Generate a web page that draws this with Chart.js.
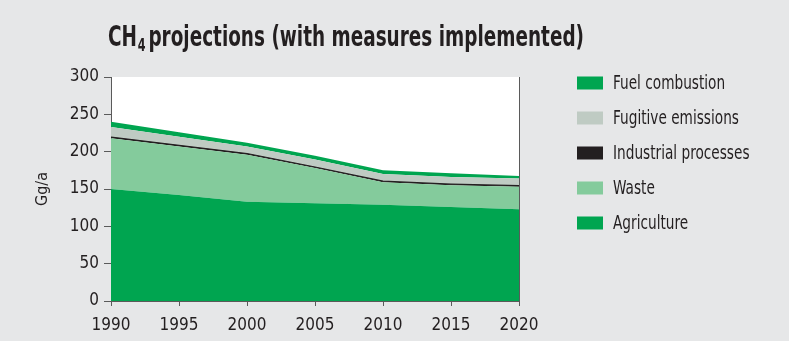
<!DOCTYPE html>
<html>
<head>
<meta charset="utf-8">
<script src="https://cdn.jsdelivr.net/npm/chart.js@4/dist/chart.umd.min.js"></script>
<style>
  html, body { margin: 0; padding: 0; background: #e6e7e8; }
  #wrap { width: 789px; height: 341px; }
</style>
</head>
<body>
<div id="wrap"><canvas id="ch4Chart" width="789" height="341"></canvas></div>
<script>
// years on the x axis
const years = ['1990', '1995', '2000', '2005', '2010', '2015', '2020'];

// Gg/a per source (stacked from the bottom up)
const agriculture = [150, 142, 133, 131, 129, 126, 123];
const waste = [68, 65, 63, 47, 30, 29, 30];
const industrial = [1.5, 1.5, 1.5, 1.5, 1.5, 1.5, 1.5];
const fugitive = [13.5, 11.5, 9.5, 10, 9.5, 9.5, 9.5];
const fuel = [7, 6, 5, 5, 5, 5, 3.5];

const yTicks = [0, 50, 100, 150, 200, 250, 300];

const FONT = '"DejaVu Sans Condensed", "Liberation Sans Narrow", sans-serif';
const TEXT = '#231f20';
const AXIS = '#5a5a5a';

function layer(label, data, color, fill, extra) {
  return Object.assign({
    label: label,
    data: data,
    backgroundColor: color,
    borderColor: color,
    borderWidth: 0,
    pointRadius: 0,
    tension: 0,
    fill: fill
  }, extra || {});
}

// фон области графика + правая рамка
const plotFrame = {
  id: 'plotFrame',
  beforeDraw(chart) {
    const a = chart.chartArea, c = chart.ctx;
    c.save();
    c.fillStyle = '#ffffff';
    c.fillRect(a.left, a.top, a.right - a.left, a.bottom - a.top);
    c.restore();
  },
  afterDatasetsDraw(chart) {
    const a = chart.chartArea, c = chart.ctx;
    c.save();
    c.strokeStyle = AXIS;
    c.lineWidth = 1;
    c.beginPath();
    c.moveTo(a.right + 0.5, a.top);
    c.lineTo(a.right + 0.5, a.bottom);
    c.stroke();
    c.restore();
  }
};

// заголовок с подстрочной 4, сжат по ширине как узкий шрифт
const titlePlugin = {
  id: 'titlePlugin',
  afterDraw(chart) {
    const c = chart.ctx;
    const big = 'bold 28px ' + FONT, small = 'bold 17px ' + FONT;
    const rest = 'projections (with measures implemented)';
    c.save();
    c.font = big;
    const wCH = c.measureText('CH').width;
    const wRest = c.measureText(rest).width;
    c.font = small;
    const w4 = c.measureText('4').width;
    const total = wCH + 1 + w4 + 4 + wRest;
    const k = 476 / total;
    c.translate(108, 46);
    c.scale(k, 1);
    c.fillStyle = TEXT;
    c.textBaseline = 'alphabetic';
    let x = 0;
    c.font = big;
    c.fillText('CH', x, 0);
    x += wCH + 1;
    c.font = small;
    c.fillText('4', x, 5);
    x += w4 + 4;
    c.font = big;
    c.fillText(rest, x, 0);
    c.restore();
  }
};

// легенда справа, в обратном порядке
const sideLegend = {
  id: 'sideLegend',
  afterDraw(chart) {
    const c = chart.ctx;
    const sets = chart.data.datasets.slice().reverse();
    c.save();
    c.font = '19px ' + FONT;
    c.textBaseline = 'middle';
    sets.forEach((ds, i) => {
      const cy = 83 + i * 35;
      c.fillStyle = ds.backgroundColor;
      c.fillRect(577, cy - 6.5, 26, 13);
      c.fillStyle = TEXT;
      c.save();
      c.translate(613, cy + 1);
      c.scale(0.8, 1);
      c.fillText(ds.label, 0, 0);
      c.restore();
    });
    c.restore();
  }
};

new Chart(document.getElementById('ch4Chart').getContext('2d'), {
  type: 'line',
  data: {
    labels: years,
    datasets: [
      layer('Agriculture', agriculture, '#00a550', 'origin'),
      layer('Waste', waste, '#84cb9c', '-1'),
      layer('Industrial processes', industrial, '#231f20', '-1', { borderWidth: 1.2, borderColor: '#231f20' }),
      layer('Fugitive emissions', fugitive, '#bfcbc3', '-1'),
      layer('Fuel combustion', fuel, '#00a550', '-1')
    ]
  },
  options: {
    responsive: false,
    animation: false,
    layout: { padding: { left: 31, right: 270, top: 77, bottom: 0 } },
    plugins: {
      legend: { display: false },
      tooltip: { enabled: false },
      filler: { propagate: false }
    },
    scales: {
      x: {
        offset: false,
        afterFit(s) { s.height = 40; },
        grid: { drawOnChartArea: false, drawTicks: true, tickLength: 5, color: AXIS },
        border: { color: AXIS, width: 1 },
        ticks: { color: TEXT, font: { family: FONT, size: 17 }, padding: 9, maxRotation: 0 }
      },
      y: {
        stacked: true,
        min: 0,
        max: 300,
        afterFit(s) { s.width = 80; },
        afterBuildTicks(s) { s.ticks = yTicks.map(v => ({ value: v })); },
        grid: { drawOnChartArea: false, drawTicks: true, tickLength: 7, color: AXIS },
        border: { color: AXIS, width: 1 },
        ticks: { color: TEXT, font: { family: FONT, size: 17 }, padding: 5 },
        title: { display: true, text: 'Gg/a', color: TEXT, font: { family: FONT, size: 16 }, padding: { top: 2, bottom: 0 } }
      }
    }
  },
  plugins: [plotFrame, titlePlugin, sideLegend]
});
</script>
</body>
</html>
